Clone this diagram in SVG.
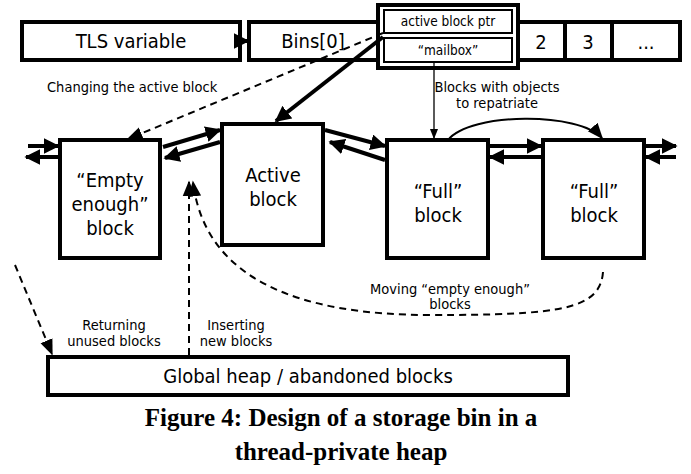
<svg xmlns="http://www.w3.org/2000/svg" width="691" height="474" viewBox="0 0 691 474">
<defs>
<marker id="a" viewBox="0 0 10 10" refX="9" refY="5" markerWidth="4" markerHeight="4" orient="auto-start-reverse"><path d="M0,0 L10,5 L0,10 z" fill="#000"/></marker>
<marker id="t" viewBox="0 0 10 10" refX="9" refY="5" markerWidth="8" markerHeight="8" orient="auto"><path d="M0,1 L10,5 L0,9 z" fill="#000"/></marker>
</defs>
<style>
text{font-family:"DejaVu Sans Condensed","DejaVu Sans",sans-serif;text-anchor:middle;fill:#000}
.b{fill:#fff;stroke:#000;stroke-width:4}
.big{font-size:20px}
.sm{font-size:14.5px}
.th{stroke:#000;stroke-width:4;fill:none;marker-end:url(#a)}
.ds{stroke:#000;stroke-width:2;fill:none;stroke-dasharray:7,5;marker-end:url(#t)}
.cap{font-family:"Liberation Serif",serif;font-weight:bold;font-size:25px}
</style>
<g id="tls"><rect class="b" x="22" y="22" width="218" height="38"/><text class="big" x="131" y="48">TLS variable</text></g>
<g id="bins"><rect class="b" x="249" y="22" width="431" height="38"/><text class="big" x="313" y="48">Bins[0]</text>
<line x1="565" y1="22" x2="565" y2="60" stroke="#000" stroke-width="4"/><line x1="612" y1="22" x2="612" y2="60" stroke="#000" stroke-width="4"/>
<text class="big" x="541" y="49">2</text><text class="big" x="588" y="49">3</text><text class="big" x="646" y="49">...</text></g>
<g id="bin0"><rect class="b" x="378" y="5" width="140" height="63"/>
<rect x="384" y="10" width="128" height="23" fill="#fff" stroke="#000" stroke-width="2"/><text class="sm" x="448" y="26" style="font-size:13.5px">active block ptr</text>
<rect x="384" y="38" width="128" height="24" fill="#fff" stroke="#000" stroke-width="2"/><text class="sm" x="448" y="55" style="font-size:13.5px">“mailbox”</text></g>
<g id="empty"><rect class="b" x="60" y="140" width="100" height="118"/><text class="big" x="110" y="187">“Empty</text><text class="big" x="110" y="211">enough”</text><text class="big" x="110" y="235">block</text></g>
<g id="active"><rect class="b" x="222" y="124" width="101" height="121"/><text class="big" x="273" y="182">Active</text><text class="big" x="273" y="206">block</text></g>
<g id="full1"><rect class="b" x="387" y="140" width="101" height="118"/><text class="big" x="438" y="198">“Full”</text><text class="big" x="438" y="222">block</text></g>
<g id="full2"><rect class="b" x="543" y="140" width="101" height="118"/><text class="big" x="594" y="198">“Full”</text><text class="big" x="594" y="222">block</text></g>
<g id="global"><rect class="b" x="48" y="357" width="520" height="38"/><text class="big" x="308" y="383">Global heap / abandoned blocks</text></g>
<g id="connectors">
<line class="th" x1="240" y1="41" x2="248" y2="41"/>
<line class="th" x1="383" y1="37" x2="276" y2="121"/>
<path class="ds" d="M383,33 L128,139"/>
<line x1="434" y1="62" x2="434" y2="138" stroke="#000" stroke-width="1.3" marker-end="url(#t)"/>
<path d="M448,140 C470,112 580,112 602,138" stroke="#000" stroke-width="2" fill="none" marker-end="url(#t)"/>
<line class="th" x1="163" y1="147" x2="220" y2="130"/>
<line class="th" x1="220" y1="142" x2="165" y2="158"/>
<line class="th" x1="325" y1="130" x2="385" y2="146"/>
<line class="th" x1="385" y1="160" x2="330" y2="142"/>
<line class="th" x1="488" y1="146" x2="541" y2="146"/>
<line class="th" x1="543" y1="157" x2="490" y2="157"/>
<line class="th" x1="28" y1="146" x2="58" y2="146"/>
<line class="th" x1="60" y1="157" x2="26" y2="157"/>
<line class="th" x1="644" y1="146" x2="676" y2="146"/>
<line class="th" x1="676" y1="157" x2="646" y2="157"/>
<path class="ds" d="M603,272 C600,310 560,315 430,315 C300,315 205,280 193,182"/>
<path class="ds" d="M189,355 L189,182"/>
<path class="ds" d="M15,265 L52,354"/>
</g>
<g id="labels">
<text class="sm" x="47" y="92" style="text-anchor:start">Changing the active block</text>
<text class="sm" x="497" y="92">Blocks with objects</text>
<text class="sm" x="497" y="108">to repatriate</text>
<text class="sm" x="450" y="294">Moving “empty enough”</text>
<text class="sm" x="450" y="309">blocks</text>
<text class="sm" x="114" y="330">Returning</text>
<text class="sm" x="114" y="346">unused blocks</text>
<text class="sm" x="236" y="330">Inserting</text>
<text class="sm" x="236" y="346">new blocks</text>
</g>
<text class="cap" x="341" y="426">Figure 4: Design of a storage bin in a</text>
<text class="cap" x="341" y="460">thread-private heap</text>
</svg>
